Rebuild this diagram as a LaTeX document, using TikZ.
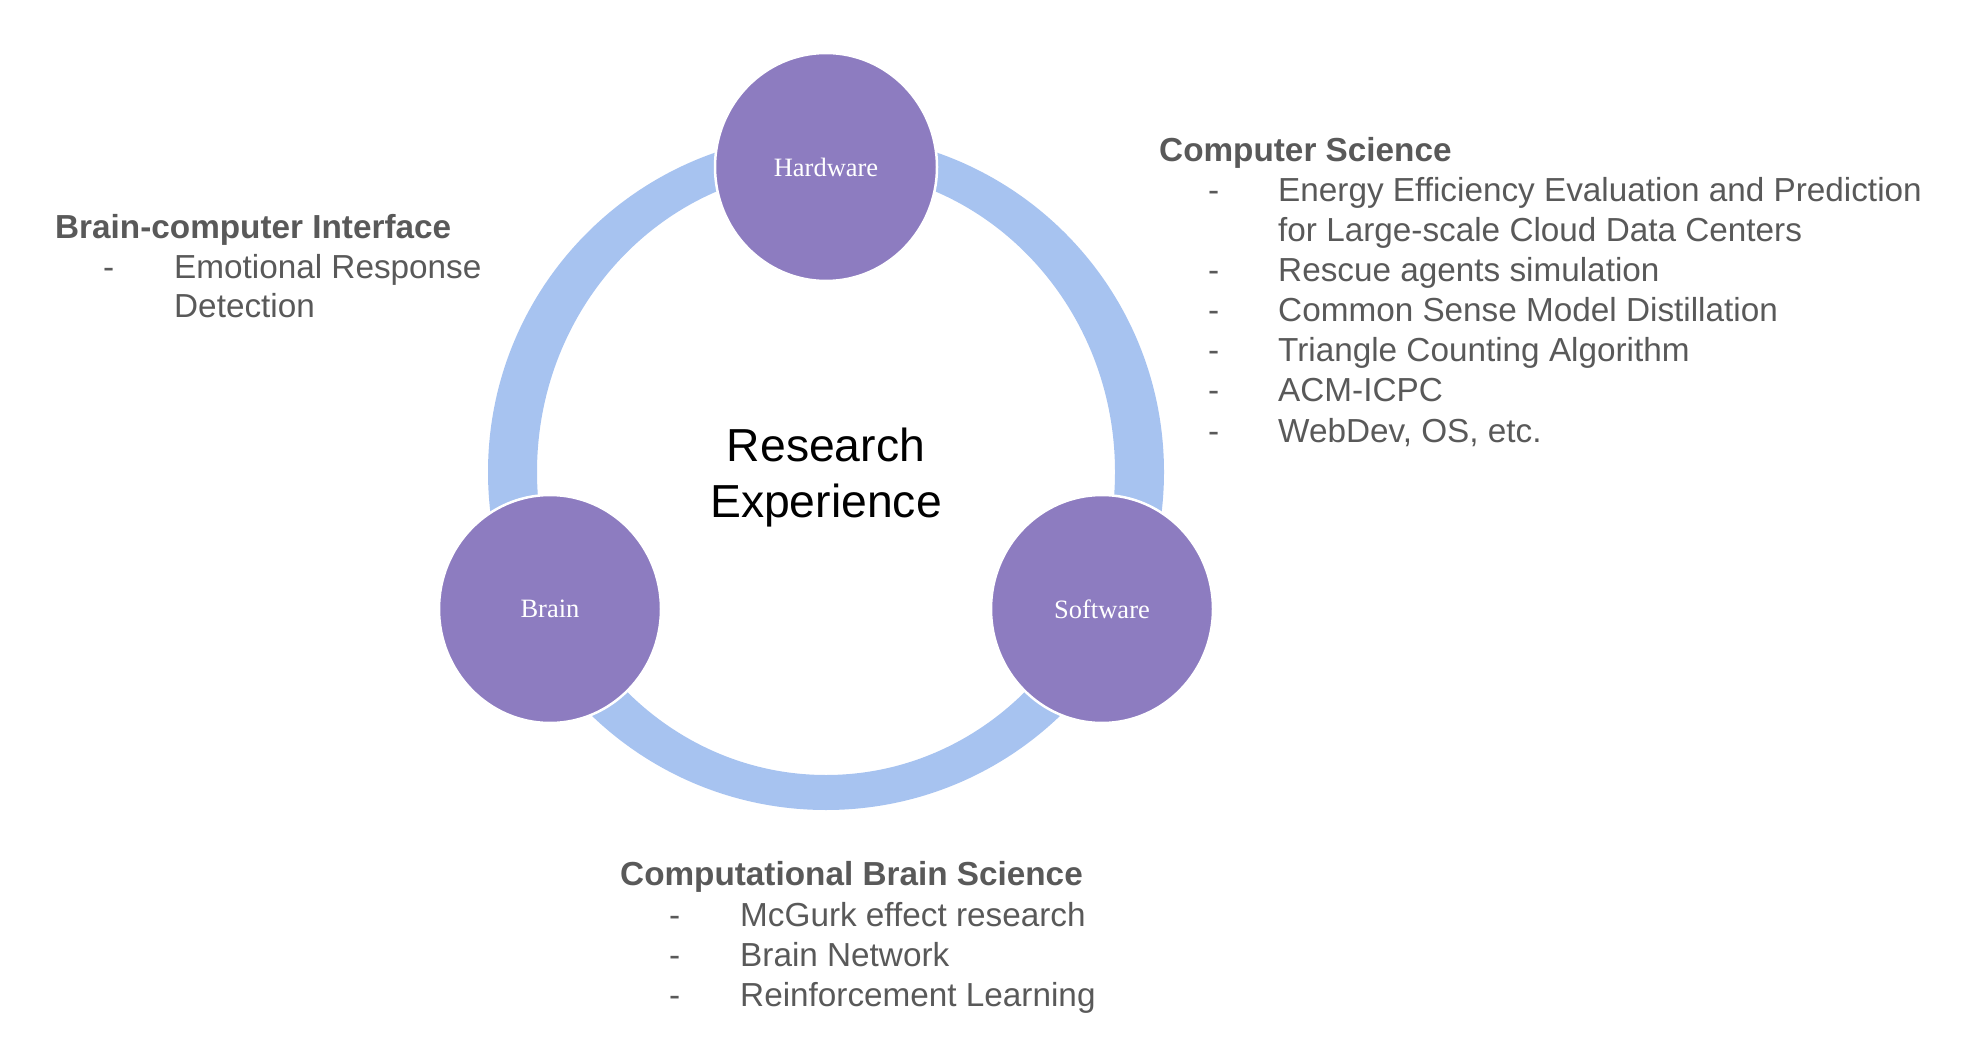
\documentclass[tikz,border=0pt]{standalone}
\usepackage{fontspec}
\setmainfont{Liberation Sans}
\newfontfamily\labelserif{Liberation Serif}
\usetikzlibrary{shapes.geometric}
\definecolor{ringblue}{HTML}{A7C3F0}
\definecolor{nodepurple}{HTML}{8D7CC0}
\definecolor{textgray}{HTML}{595959}
\tikzset{
  bubble/.style={ellipse, fill=nodepurple, draw=white, line width=2.5pt,
    minimum width=222pt, minimum height=228pt, inner sep=0pt,
    text=white, font=\labelserif\fontsize{26.5}{30}\selectfont},
  headline/.style={anchor=base west, inner sep=0pt, text=textgray,
    font=\fontsize{33.3}{40}\selectfont\bfseries},
  itemline/.style={anchor=base west, inner sep=0pt, text=textgray,
    font=\fontsize{33.3}{40}\selectfont},
  centertitle/.style={anchor=base, inner sep=0pt, text=black,
    font=\fontsize{46.3}{56}\selectfont}
}
\begin{document}
\begin{tikzpicture}[x=1pt,y=-1pt]
\useasboundingbox (0,0) rectangle (1962,1056);
% ring
\fill[ringblue, even odd rule] (826,472) circle[radius=338pt]
  (826,472) ellipse[x radius=289pt, y radius=303pt];
% circles
\node[bubble] (hw) at (826,167) {Hardware};
\node[bubble] (br) at (550,609) {Brain};
\node[bubble] (sw) at (1102,609) {Software};
% center title
\node[centertitle] (t1) at (826,461) {Research};
\node[centertitle] (t2) at (826,517) {Experience};
% left block
\node[headline] (bci) at (55,239) {Brain-computer Interface};
\node[itemline] (bcid1) at (103,279) {-};
\node[itemline] (bci1) at (174,279) {Emotional Response};
\node[itemline] (bci1b) at (174,318) {Detection};
% right block
\node[headline] (cs) at (1159,162) {Computer Science};
\node[itemline] (csd1) at (1208,202) {-};
\node[itemline] (cs1) at (1278,202) {Energy Efficiency Evaluation and Prediction};
\node[itemline] (cs1b) at (1278,242) {for Large-scale Cloud Data Centers};
\node[itemline] (csd2) at (1208,282) {-};
\node[itemline] (cs2) at (1278,282) {Rescue agents simulation};
\node[itemline] (csd3) at (1208,322) {-};
\node[itemline] (cs3) at (1278,322) {Common Sense Model Distillation};
\node[itemline] (csd4) at (1208,362) {-};
\node[itemline] (cs4) at (1278,362) {Triangle Counting Algorithm};
\node[itemline] (csd5) at (1208,402) {-};
\node[itemline] (cs5) at (1278,402) {ACM-ICPC};
\node[itemline] (csd6) at (1208,442) {-};
\node[itemline] (cs6) at (1278,442) {WebDev, OS, etc.};
% bottom block
\node[headline] (cbs) at (620,885) {Computational Brain Science};
\node[itemline] (cbsd1) at (669,926) {-};
\node[itemline] (cbs1) at (740,926) {McGurk effect research};
\node[itemline] (cbsd2) at (669,966) {-};
\node[itemline] (cbs2) at (740,966) {Brain Network};
\node[itemline] (cbsd3) at (669,1006) {-};
\node[itemline] (cbs3) at (740,1006) {Reinforcement Learning};
\end{tikzpicture}
\end{document}
